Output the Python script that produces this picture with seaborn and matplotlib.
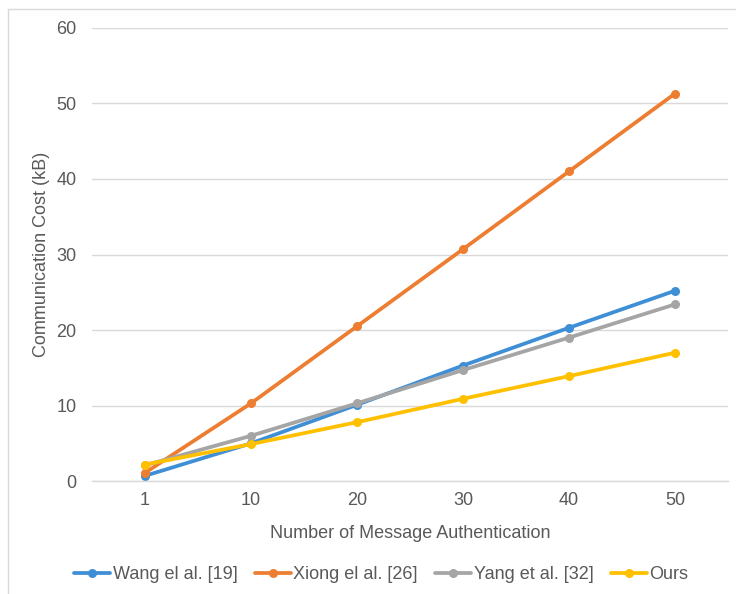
import matplotlib
matplotlib.use("Agg")
import matplotlib.pyplot as plt
from matplotlib.lines import Line2D
import pandas as pd
import seaborn as sns

# Number of authenticated messages (category labels on the x axis)
messages = ["1", "10", "20", "30", "40", "50"]

# Communication cost in kB for each scheme
wang = [0.7, 5.0, 10.1, 15.3, 20.3, 25.2]
xiong = [1.1, 10.3, 20.5, 30.7, 41.0, 51.3]
yang = [2.1, 6.0, 10.3, 14.7, 19.0, 23.4]
ours = [2.2, 4.9, 7.8, 10.9, 13.9, 17.0]

schemes = ["Wang el al. [19]", "Xiong el al. [26]", "Yang et al. [32]", "Ours"]
colors = ["#3F8FD6", "#ED7D31", "#A5A5A5", "#FFC000"]

df = pd.DataFrame({
    "messages": messages * 4,
    "cost": wang + xiong + yang + ours,
    "scheme": [s for s in schemes for _ in messages],
})

sns.set_theme(style="white")
plt.rcParams["font.family"] = ["Liberation Sans", "DejaVu Sans"]

text_color = "#595959"
grid_color = "#D9D9D9"

fig = plt.figure(figsize=(7.36, 5.94), dpi=100)
ax = fig.add_axes([0.125, 0.190, 0.864, 0.763])

sns.lineplot(
    data=df, x="messages", y="cost", hue="scheme", hue_order=schemes,
    palette=colors, marker="o", markersize=6.5, markeredgewidth=0,
    linewidth=2.7, sort=False, ax=ax, legend=False,
)

ax.set_xlim(-0.5, len(messages) - 0.5)
ax.set_ylim(0, 60)
ax.set_yticks(range(0, 61, 10))
ax.yaxis.grid(True, color=grid_color, linewidth=1.0)
ax.set_axisbelow(True)
for side in ["left", "right", "top"]:
    ax.spines[side].set_visible(False)
ax.spines["bottom"].set_color(grid_color)
ax.spines["bottom"].set_linewidth(1.0)
ax.tick_params(axis="both", length=0, labelsize=13, labelcolor=text_color)
ax.tick_params(axis="x", pad=8)
ax.tick_params(axis="y", pad=11)

ax.set_xlabel("Number of Message Authentication", fontsize=13,
              color=text_color, labelpad=11)
ax.set_ylabel("Communication Cost (kB)", fontsize=13,
              color=text_color, labelpad=5)

handles = [
    Line2D([], [], color=c, linewidth=2.7, marker="o", markersize=6.5,
           markeredgewidth=0)
    for c in colors
]
fig.legend(
    handles, schemes, loc="center", bbox_to_anchor=(0.518, 0.032), ncol=4,
    frameon=False, fontsize=13, handlelength=2.0, handletextpad=0.15,
    columnspacing=0.95, labelcolor=text_color,
)

# Outer chart border (left and top edges)
fig.add_artist(Line2D([8 / 736, 8 / 736], [0, 1 - 9 / 594],
                      transform=fig.transFigure, color=grid_color, linewidth=1.0))
fig.add_artist(Line2D([8 / 736, 1], [1 - 9 / 594, 1 - 9 / 594],
                      transform=fig.transFigure, color=grid_color, linewidth=1.0))

fig.savefig("out.png", dpi=100, facecolor="white")
